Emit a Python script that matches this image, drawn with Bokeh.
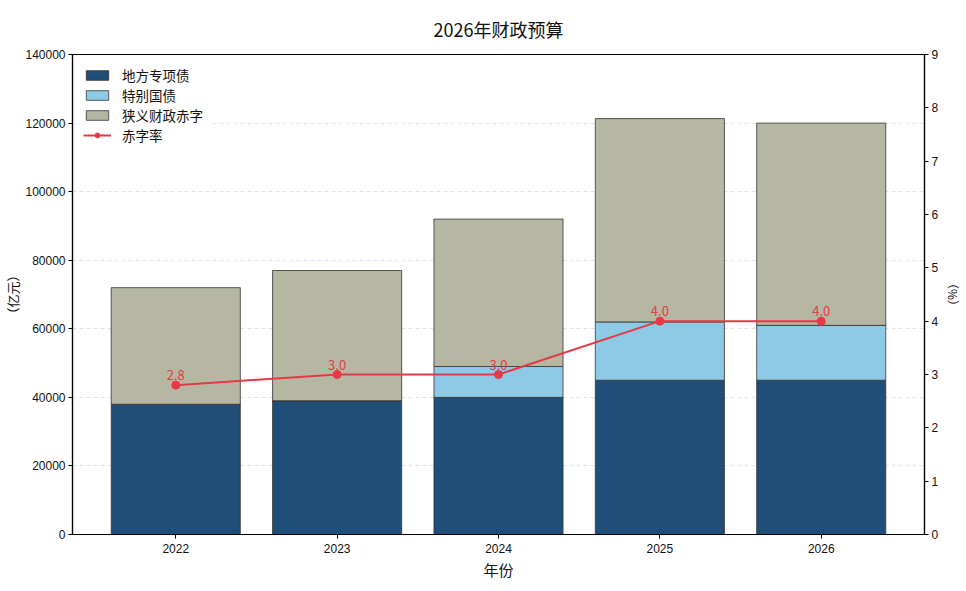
import numpy as np
from bokeh.plotting import figure
from bokeh.models import (Range1d, LinearAxis, FixedTicker, Legend, LegendItem,
                          ColumnDataSource, BasicTickFormatter, LabelSet)
from bokeh.core.properties import value
from bokeh.embed import file_html
from bokeh.resources import INLINE

years = ["2022", "2023", "2024", "2025", "2026"]
local_bonds = [38000, 39000, 40000, 45000, 45000]      # 地方专项债
special_bonds = [0, 0, 9000, 17000, 16000]             # 特别国债
deficit = [34000, 38000, 43000, 59300, 59000]          # 狭义财政赤字
deficit_rate = [2.8, 3.0, 3.0, 4.0, 4.0]               # 赤字率 (%)
rate_labels = ["2.8", "3.0", "3.0", "4.0", "4.0"]
left_ticks = [0, 20000, 40000, 60000, 80000, 100000, 120000, 140000]
right_ticks = [0, 1, 2, 3, 4, 5, 6, 7, 8, 9]

CJK = "Noto Sans CJK SC"
NUM = "Liberation Sans"

xs = list(range(len(years)))
b1 = np.array(local_bonds, dtype=float)
b2 = b1 + np.array(special_bonds, dtype=float)
b3 = b2 + np.array(deficit, dtype=float)

p = figure(frame_width=852, frame_height=480, output_backend="svg", toolbar_location=None,
           x_range=Range1d(-0.64, 4.64), y_range=Range1d(0, 140000),
           title="2026年财政预算", min_border_top=0, min_border_bottom=0,
           min_border_left=0, min_border_right=0)
p.title.align = "center"
p.title.text_font = CJK
p.title.text_font_size = "18px"
p.title.text_font_style = "normal"
p.title.text_color = "#111111"
p.title.offset = 0
p.title.standoff = 26

p.outline_line_color = "black"
p.outline_line_width = 1.2
p.background_fill_color = "white"

edge = "#333333"
r1 = p.vbar(x=xs, width=0.8, bottom=0, top=b1, fill_color="#1f4e79",
            line_color=edge, line_width=0.8)
r2 = p.vbar(x=xs, width=0.8, bottom=b1, top=b2, fill_color="#8ecae6",
            line_color=edge, line_width=0.8)
r3 = p.vbar(x=xs, width=0.8, bottom=b2, top=b3, fill_color="#b5b7a3",
            line_color=edge, line_width=0.8)

p.extra_y_ranges = {"rate": Range1d(0, 9)}
red = "#e63946"
lr = p.line(x=xs, y=deficit_rate, y_range_name="rate", line_color=red, line_width=2)
cr = p.scatter(x=xs, y=deficit_rate, y_range_name="rate", size=8, fill_color=red,
               line_color=red)

src = ColumnDataSource(dict(x=xs, y=deficit_rate, t=rate_labels))
labels = LabelSet(x="x", y="y", text="t", source=src, y_range_name="rate",
                  text_align="center", text_baseline="bottom", y_offset=5,
                  text_color=red, text_font=value(CJK), text_font_size="13px")
p.add_layout(labels)

# axes
p.xaxis.ticker = FixedTicker(ticks=xs)
p.xaxis.major_label_overrides = {i: y for i, y in enumerate(years)}
p.xaxis.axis_label = "年份"
p.yaxis.ticker = FixedTicker(ticks=left_ticks)
p.yaxis.formatter = BasicTickFormatter(use_scientific=False)
p.yaxis.axis_label = "（亿元）"

right = LinearAxis(y_range_name="rate", ticker=FixedTicker(ticks=right_ticks),
                   axis_label="（%）")
p.add_layout(right, "right")

for ax in [p.xaxis[0], p.yaxis[0], right]:
    ax.axis_line_color = "black"
    ax.axis_line_width = 1.2
    ax.major_tick_line_color = "black"
    ax.major_tick_in = 0
    ax.major_tick_out = 4
    ax.minor_tick_line_color = None
    ax.major_label_text_font = NUM
    ax.major_label_text_font_size = "12px"
    ax.major_label_text_color = "#111111"
    ax.major_label_standoff = 3
    ax.axis_label_text_font = CJK
    ax.axis_label_text_font_style = "normal"
    ax.axis_label_text_color = "#111111"
    ax.axis_label_standoff = 0
p.xaxis.axis_label_text_font_size = "15px"
p.xaxis.major_label_standoff = 5
p.xaxis.axis_label_standoff = 3
p.yaxis.axis_label_text_font_size = "13px"
right.axis_label_text_font_size = "12px"
right.axis_label_standoff = 4

p.xgrid.grid_line_color = None
p.ygrid.ticker = FixedTicker(ticks=left_ticks)
p.ygrid.grid_line_color = "#d0d0d0"
p.ygrid.grid_line_alpha = 0.6
p.ygrid.grid_line_dash = "4 3"

legend = Legend(items=[
    LegendItem(label="地方专项债", renderers=[r1]),
    LegendItem(label="特别国债", renderers=[r2]),
    LegendItem(label="狭义财政赤字", renderers=[r3]),
    LegendItem(label="赤字率", renderers=[lr, cr]),
], location="top_left")
legend.label_text_font = CJK
legend.label_text_font_size = "13.5px"
legend.label_text_color = "#111111"
legend.border_line_alpha = 0
legend.background_fill_alpha = 0.8
legend.glyph_width = 28
legend.glyph_height = 12
legend.label_height = 12
legend.spacing = 0
legend.label_standoff = 11
legend.padding = 7
legend.margin = 4
p.add_layout(legend)

open("out.html", "w").write(file_html(p, INLINE))
